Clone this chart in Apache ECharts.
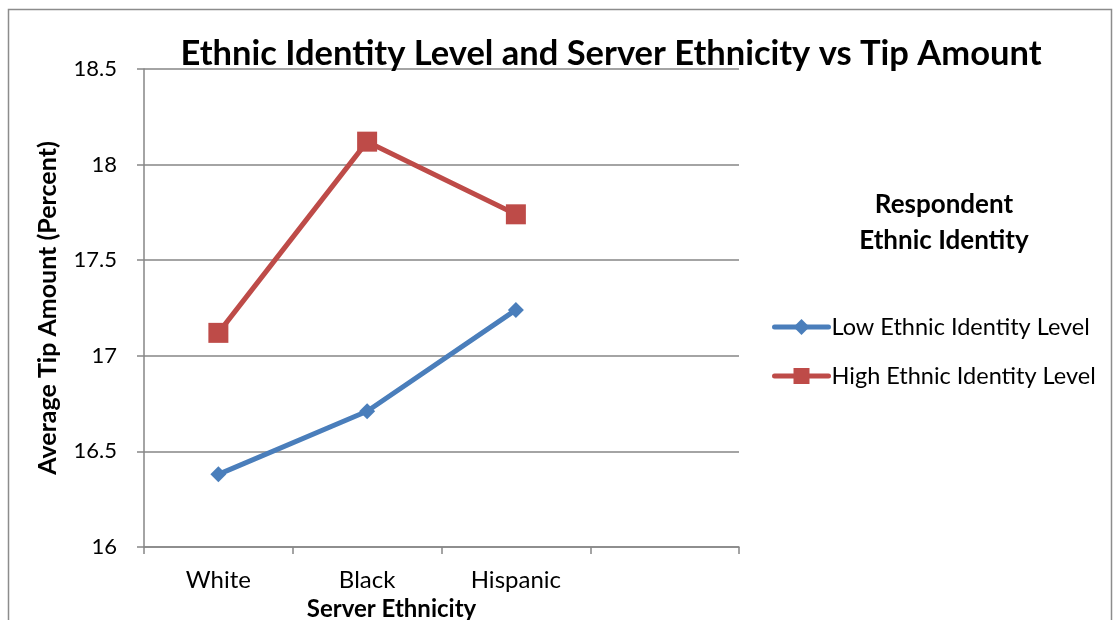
<!DOCTYPE html>
<html><head><meta charset="utf-8">
<script src="https://cdn.jsdelivr.net/npm/echarts@6/dist/echarts.min.js"></script>
<style>html,body{margin:0;padding:0;background:#fff}#c{width:1118px;height:620px}</style>
</head><body><div id="c"></div>
<script>
const categories = ['White', 'Black', 'Hispanic', ''];
const lowValues = [16.38, 16.71, 17.24];
const highValues = [17.12, 18.12, 17.74];
const seriesNames = ['Low Ethnic Identity Level', 'High Ethnic Identity Level'];
const legendTitle = 'Respondent\nEthnic Identity';
const FONT = 'Lato';
const COLORS = ['#4a7ebb', '#be4b48'];
const chart = echarts.init(document.getElementById('c'), null, {renderer: 'canvas'});
chart.setOption({
  animation: false,
  backgroundColor: '#fff',
  title: {
    text: 'Ethnic Identity Level and Server Ethnicity vs Tip Amount',
    left: 606, top: 31, textAlign: 'center',
    textStyle: {fontFamily: FONT, fontWeight: 'bold', fontSize: 34.5, color: '#000'}
  },
  graphic: [
    {type: 'rect', shape: {x: 8.5, y: 9.5, width: 1103, height: 640}, style: {fill: 'none', stroke: '#8c8c8c', lineWidth: 1.5}, silent: true},
    {type: 'text', x: 944, y: 187, style: {text: legendTitle, textAlign: 'center', fontFamily: FONT, fontWeight: 'bold', fontSize: 26, lineHeight: 36, fill: '#000'}}
  ],
  legend: {
    orient: 'vertical', left: 767, top: 310, itemGap: 25, itemWidth: 54, itemHeight: 20,
    textStyle: {fontFamily: FONT, fontSize: 23.5, color: '#000', padding: [0,0,0,-2]},
    data: seriesNames.map((n, i) => ({name: n, lineStyle: {width: 5, color: COLORS[i], cap: 'round'}}))
  },
  grid: {left: 144, top: 69, width: 595, height: 478, containLabel: false, outerBoundsMode: 'none'},
  xAxis: {
    type: 'category', data: categories, boundaryGap: true,
    name: 'Server Ethnicity', nameLocation: 'middle', nameGap: 40,
    nameTextStyle: {fontFamily: FONT, fontWeight: 'bold', fontSize: 24, color: '#000', padding: [0, 100, 0, 0]},
    axisLine: {lineStyle: {color: '#868686', width: 1.5}},
    axisTick: {show: true, length: 7, lineStyle: {color: '#868686', width: 1.5}},
    axisLabel: {fontFamily: FONT, fontSize: 24, color: '#000', margin: 21}
  },
  yAxis: {
    type: 'value', min: 16, max: 18.5, interval: 0.5,
    name: 'Average Tip Amount (Percent)', nameLocation: 'middle', nameGap: 84, nameRotate: 90,
    nameTextStyle: {fontFamily: FONT, fontWeight: 'bold', fontSize: 25, color: '#000'},
    axisLine: {show: true, lineStyle: {color: '#868686', width: 1.5}},
    axisTick: {show: true, length: 7, lineStyle: {color: '#868686', width: 1.5}},
    splitLine: {lineStyle: {color: '#868686', width: 1.5}},
    axisLabel: {fontFamily: FONT, fontSize: 22, color: '#000', margin: 27}
  },
  series: [
    {name: seriesNames[0], type: 'line', data: lowValues, symbol: 'diamond', symbolSize: 16,
     lineStyle: {color: COLORS[0], width: 5}, itemStyle: {color: COLORS[0]}},
    {name: seriesNames[1], type: 'line', data: highValues, symbol: 'rect', symbolSize: 20,
     lineStyle: {color: COLORS[1], width: 5}, itemStyle: {color: COLORS[1]}}
  ]
});
</script></body></html>
